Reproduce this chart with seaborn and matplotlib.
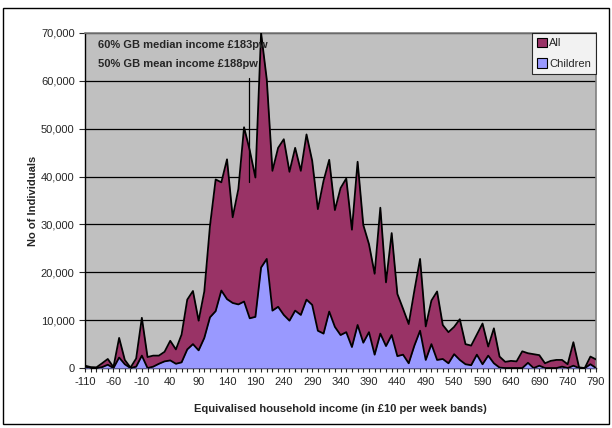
import numpy as np
import pandas as pd
import matplotlib
matplotlib.use('Agg')
import matplotlib.pyplot as plt
import seaborn as sns
from matplotlib.patches import Rectangle, Patch
from matplotlib.ticker import FuncFormatter

sns.set_style('white')
plt.rcParams['font.family'] = ['Liberation Sans', 'DejaVu Sans']

# income bands (£ per week, 10 wide)
bands = list(range(-110, 800, 10))

all_people = [500, 200, 150, 1000, 1900, 200, 6300, 1700, 100, 2000,
              10500, 2300, 2600, 2600, 3400, 5700, 3900, 7000, 14300, 16100,
              9900, 16000, 29700, 39400, 38800, 43600, 31500, 37400, 50300, 45500,
              39800, 70000, 60300, 41200, 46000, 47800, 41000, 46000, 41200, 48800,
              43300, 33200, 39100, 43500, 33000, 37600, 39600, 28900, 43100, 29900,
              25900, 19700, 33500, 17900, 28200, 15500, 12400, 9200, 16200, 22800,
              8700, 14100, 16000, 9000, 7500, 8600, 10200, 5000, 4700, 7000,
              9300, 4500, 8300, 2400, 1300, 1500, 1400, 3500, 3100, 2900,
              2700, 1000, 1500, 1700, 1700, 800, 5400, 150, 0, 2400,
              1800]

children = [300, 0, 0, 200, 700, 0, 2200, 800, 0, 300,
            2600, 0, 300, 900, 1400, 1600, 900, 1200, 3900, 5000,
            3700, 6300, 10600, 11900, 16200, 14400, 13600, 13300, 13900, 10400,
            10700, 21000, 22800, 12000, 12800, 11100, 9900, 12000, 11100, 14300,
            13200, 7800, 7200, 11800, 8600, 6900, 7500, 4400, 9000, 5300,
            7500, 2800, 7200, 4600, 6900, 2500, 2800, 1000, 4700, 7800,
            1700, 5000, 1700, 1900, 1000, 2900, 1700, 800, 600, 2800,
            800, 2600, 1000, 100, 0, 0, 0, 0, 1100, 0,
            500, 0, 0, 0, 300, 0, 500, 0, 0, 800,
            0]

median_x = 178
median_line = [38800, 60500]
notes = ['60% GB median income £183pw', '50% GB mean income £188pw']

df = pd.DataFrame({'band': bands, 'All': all_people, 'Children': children})

fig = plt.figure(figsize=(6.12, 4.28), dpi=100)
ax = fig.add_axes([0.139, 0.140, 0.835, 0.783])
ax.set_facecolor('#C0C0C0')

ax.fill_between(df['band'], df['All'], color='#993366', lw=0, zorder=2)
ax.fill_between(df['band'], df['Children'], color='#9999FF', lw=0, zorder=3)
sns.lineplot(data=df, x='band', y='All', color='black', lw=1.3, ax=ax, zorder=4)
sns.lineplot(data=df, x='band', y='Children', color='black', lw=1.3, ax=ax, zorder=5)

for y in range(10000, 70001, 10000):
    ax.axhline(y, color='black', lw=0.9, zorder=1)

ax.plot([median_x, median_x], median_line, color='black', lw=0.9, zorder=6)

ax.set_xlim(-110, 790)
ax.set_ylim(0, 70000)
ax.set_xticks(bands)
ax.set_xticklabels([str(b) if (b + 110) % 50 == 0 else '' for b in bands], fontsize=8)
ax.set_yticks(range(0, 70001, 10000))
ax.yaxis.set_major_formatter(FuncFormatter(lambda v, p: f'{int(v):,}'))
ax.tick_params(axis='y', labelsize=8, length=4, direction='out', left=True, width=0.8)
ax.tick_params(axis='x', length=3, direction='out', bottom=True, width=0.8)

for s in ['top', 'right']:
    ax.spines[s].set_color('#808080')
    ax.spines[s].set_linewidth(1.2)
for s in ['left', 'bottom']:
    ax.spines[s].set_color('black')
    ax.spines[s].set_linewidth(1.0)

ax.set_xlabel('Equivalised household income (in £10 per week bands)', fontsize=8,
              fontweight='bold', labelpad=12)
ax.set_ylabel('No of Individuals', fontsize=8, fontweight='bold', labelpad=2)

ax.text(0.025, 0.98, notes[0], transform=ax.transAxes, fontsize=8,
        fontweight='bold', va='top', zorder=7)
ax.text(0.025, 0.922, notes[1], transform=ax.transAxes, fontsize=8,
        fontweight='bold', va='top', zorder=7)

handles = [Patch(facecolor='#993366', edgecolor='black', lw=0.8),
           Patch(facecolor='#9999FF', edgecolor='black', lw=0.8)]
leg = ax.legend(handles, ['All', 'Children'], loc='upper right', fontsize=8,
                frameon=True, fancybox=False, borderaxespad=0, handlelength=0.9,
                handleheight=0.9, handletextpad=0.2, borderpad=0.45, labelspacing=0.9)
leg.get_frame().set_edgecolor('black')
leg.get_frame().set_linewidth(0.8)
leg.set_zorder(8)

fig.patches.append(Rectangle((0.005, 0.009), 0.99, 0.972, transform=fig.transFigure,
                             fill=False, edgecolor='black', lw=1.0))

fig.savefig('out.png', dpi=100)
